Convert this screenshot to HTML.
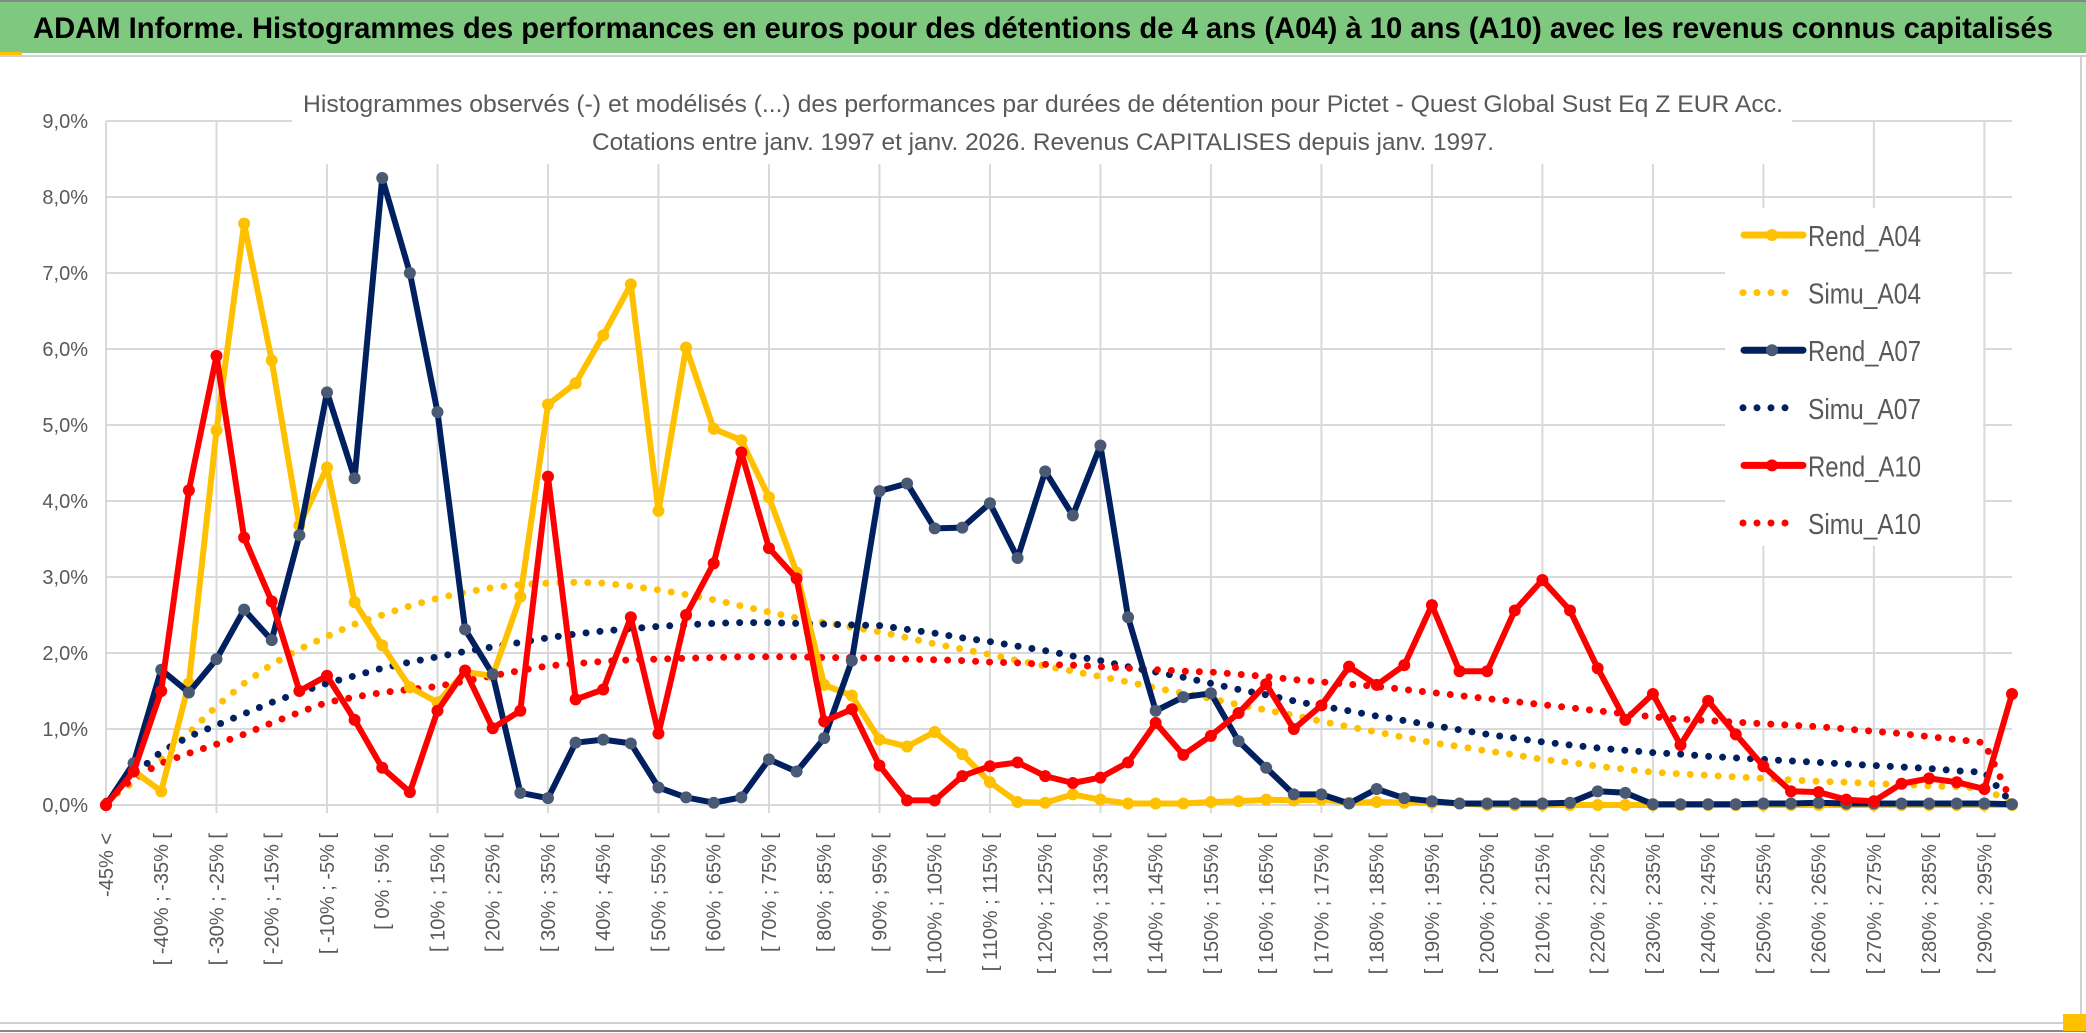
<!DOCTYPE html>
<html><head><meta charset="utf-8"><style>
html,body{margin:0;padding:0;background:#fff;}
svg{display:block;font-family:"Liberation Sans",sans-serif;}
</style></head><body>
<svg id="chart" width="2086" height="1033" viewBox="0 0 2086 1033" xmlns="http://www.w3.org/2000/svg">
<rect x="0" y="0" width="2086" height="1033" fill="#fff"/>
<rect x="0" y="1" width="2086" height="52" fill="#7fc87f"/>
<line x1="0" y1="1" x2="2086" y2="1" stroke="#888" stroke-width="2"/>
<line x1="0" y1="56" x2="2086" y2="56" stroke="#d0d0d0" stroke-width="2"/>
<rect x="0" y="52" width="22" height="3" fill="#ffc000"/>
<text x="33" y="38" font-size="30" font-weight="bold" fill="#000" textLength="2020" lengthAdjust="spacingAndGlyphs">ADAM Informe. Histogrammes des performances en euros pour des détentions de 4 ans (A04) à 10 ans (A10) avec les revenus connus capitalisés</text>
<line x1="2081" y1="56" x2="2081" y2="1024" stroke="#d0d0d0" stroke-width="2"/>
<line x1="0" y1="1023" x2="2081" y2="1023" stroke="#d0d0d0" stroke-width="2"/>
<line x1="0" y1="1031" x2="2086" y2="1031" stroke="#888" stroke-width="2"/>
<rect x="2063" y="1014" width="23" height="17" fill="#ffc000"/>
<g id="grid"></g>
<g id="axes"></g>
<g id="series"></g>
<rect x="292" y="84" width="1500" height="80" fill="#fff"/>
<text x="1043" y="112" font-size="24" fill="#595959" text-anchor="middle" textLength="1480" lengthAdjust="spacingAndGlyphs">Histogrammes observés (-) et modélisés (...) des performances par durées de détention pour Pictet - Quest Global Sust Eq Z EUR Acc.</text>
<text x="1043" y="150" font-size="24" fill="#595959" text-anchor="middle" textLength="902" lengthAdjust="spacingAndGlyphs">Cotations entre janv. 1997 et janv. 2026. Revenus CAPITALISES depuis janv. 1997.</text>
<g id="legend"></g>
</svg>
<script>
const categories = [];
const tickValues = [0,1,2,3,4,5,6,7,8,9];
const rendA04 = [0,0.45,0.18,1.6,4.93,7.65,5.85,3.68,4.44,2.67,2.1,1.55,1.35,1.75,1.7,2.74,5.27,5.55,6.18,6.85,3.87,6.02,4.95,4.8,4.05,3.06,1.58,1.44,0.86,0.77,0.96,0.67,0.3,0.04,0.03,0.14,0.07,0.02,0.02,0.02,0.04,0.05,0.07,0.06,0.07,0.03,0.04,0.03,0.03,0.02,0,0,0,0,0,0,0,0,0,0,0,0,0,0,0,0,0,0,0,0];
const simuA04 = [0.05,0.3,0.6,0.95,1.3,1.6,1.85,2.05,2.22,2.38,2.5,2.62,2.72,2.8,2.86,2.9,2.92,2.93,2.92,2.88,2.83,2.77,2.7,2.62,2.54,2.46,2.4,2.34,2.28,2.2,2.12,2.05,1.98,1.9,1.83,1.76,1.69,1.62,1.54,1.47,1.4,1.32,1.25,1.18,1.1,1.03,0.96,0.89,0.82,0.77,0.71,0.66,0.6,0.56,0.51,0.47,0.43,0.41,0.39,0.37,0.35,0.33,0.31,0.3,0.28,0.27,0.25,0.24,0.22,0.02];
const rendA07 = [0,0.55,1.78,1.48,1.92,2.57,2.17,3.55,5.43,4.3,8.25,7.0,5.17,2.31,1.72,0.16,0.09,0.82,0.86,0.81,0.23,0.1,0.03,0.1,0.6,0.44,0.88,1.9,4.13,4.23,3.64,3.65,3.97,3.25,4.39,3.81,4.73,2.47,1.24,1.42,1.47,0.84,0.49,0.14,0.14,0.02,0.21,0.09,0.05,0.02,0.02,0.02,0.02,0.03,0.18,0.16,0.01,0.01,0.01,0.01,0.02,0.02,0.03,0.02,0.02,0.02,0.02,0.02,0.02,0.01];
const simuA07 = [0.05,0.4,0.7,0.9,1.05,1.2,1.35,1.48,1.6,1.7,1.8,1.88,1.95,2.02,2.08,2.14,2.2,2.25,2.29,2.32,2.35,2.37,2.39,2.4,2.4,2.39,2.38,2.37,2.36,2.31,2.26,2.2,2.15,2.09,2.03,1.96,1.9,1.82,1.75,1.68,1.6,1.52,1.45,1.37,1.3,1.24,1.17,1.11,1.05,0.99,0.93,0.88,0.83,0.79,0.75,0.72,0.69,0.67,0.64,0.62,0.6,0.58,0.56,0.54,0.52,0.5,0.48,0.45,0.43,0.02];
const rendA10 = [0,0.44,1.5,4.14,5.91,3.52,2.68,1.5,1.7,1.12,0.49,0.17,1.24,1.77,1.01,1.24,4.32,1.39,1.52,2.47,0.94,2.5,3.18,4.64,3.38,2.98,1.1,1.26,0.52,0.06,0.06,0.38,0.51,0.56,0.38,0.29,0.36,0.56,1.08,0.66,0.91,1.21,1.59,1.0,1.31,1.82,1.58,1.84,2.63,1.76,1.76,2.56,2.96,2.56,1.8,1.12,1.46,0.79,1.37,0.93,0.51,0.18,0.17,0.07,0.05,0.28,0.35,0.3,0.21,1.46];
const simuA10 = [0.05,0.35,0.55,0.68,0.8,0.93,1.08,1.22,1.35,1.42,1.48,1.52,1.56,1.63,1.7,1.77,1.83,1.86,1.89,1.91,1.92,1.93,1.94,1.95,1.95,1.95,1.94,1.94,1.93,1.92,1.91,1.9,1.88,1.87,1.85,1.84,1.82,1.8,1.78,1.76,1.75,1.72,1.69,1.65,1.62,1.59,1.56,1.52,1.48,1.44,1.4,1.36,1.32,1.28,1.24,1.2,1.16,1.13,1.11,1.09,1.07,1.05,1.03,1.0,0.97,0.94,0.9,0.86,0.82,0.03];
categories.push("-45% <");
for (let i = 1; i < 70; i++) { const a = -45 + 5*(i-1); categories.push("[ " + a + "% ; " + (a+5) + "% ["); }

const NS = "http://www.w3.org/2000/svg";
const X0 = 106, X1 = 2012, Y0 = 805, YTOP = 121, YMAX = 9;
function xPos(i){ return X0 + i*(X1-X0)/(categories.length-1); }
function yPos(v){ return Y0 - v*(Y0-YTOP)/YMAX; }
function mk(tag, attrs, parent){ const e=document.createElementNS(NS,tag); for(const k in attrs) e.setAttribute(k,attrs[k]); parent.appendChild(e); return e; }

const grid = document.getElementById('grid');
tickValues.forEach(t => {
  const l = mk('line',{x1:X0,x2:X1,y1:yPos(t),y2:yPos(t),stroke:'#d9d9d9','stroke-width':2},grid);
  
  
  const tx = mk('text',{x:88,y:yPos(t)+7,'font-size':20,fill:'#595959','text-anchor':'end'},grid);
  
  
  tx.textContent = t.toFixed(1).replace('.',',') + '%';
});
for (let i = 0; i < categories.length; i += 4) {
  const l = mk('line',{x1:xPos(i),x2:xPos(i),y1:YTOP,y2:Y0+8,stroke:'#d9d9d9','stroke-width':2},grid);
  
  
}
const axes = document.getElementById('axes');
for (let i = 0; i < categories.length; i += 2) {
  const x = xPos(i) + 7, y = 833;
  const t = mk('text',{x:x,y:y,'font-size':20,fill:'#595959','text-anchor':'end',transform:`rotate(-90 ${x} ${y})`},axes);
  
  
  t.textContent = categories[i];
}

const series = document.getElementById('series');
function pts(arr){ return arr.map((v,i)=>xPos(i).toFixed(1)+','+yPos(v).toFixed(1)).join(' '); }
function dotted(arr, color, name){
  const p = mk('polyline',{points:pts(arr),fill:'none',stroke:color,'stroke-width':7,'stroke-linecap':'round','stroke-dasharray':'0 14'},series);
  
  
}
function solid(arr, color, mcolor, name){
  const g = mk('g',{},series);
  
  
  mk('polyline',{points:pts(arr),fill:'none',stroke:color,'stroke-width':6,'stroke-linejoin':'round'},g);
  arr.forEach((v,i)=>{
    const c = mk('circle',{cx:xPos(i),cy:yPos(v),r:6,fill:mcolor},g);
    
    
  });
}
dotted(simuA04,'#ffc000','simu-a04-line');
dotted(simuA07,'#002060','simu-a07-line');
dotted(simuA10,'#ff0000','simu-a10-line');
solid(rendA04,'#ffc000','#ffc000','rend-a04-line');
solid(rendA07,'#002060','#4a5a75','rend-a07-line');
solid(rendA10,'#ff0000','#ff0000','rend-a10-line');

const legend = document.getElementById('legend');
mk('rect',{x:1725,y:208,width:258,height:338,fill:'#fff'},legend);
const entries = [
  ['Rend_A04','#ffc000','#ffc000',false],
  ['Simu_A04','#ffc000',null,true],
  ['Rend_A07','#002060','#4a5a75',false],
  ['Simu_A07','#002060',null,true],
  ['Rend_A10','#ff0000','#ff0000',false],
  ['Simu_A10','#ff0000',null,true]
];
entries.forEach((e,k)=>{
  const y = 235 + k*57.6;
  const g = mk('g',{},legend);
  
  
  if (e[3]) {
    mk('line',{x1:1743,x2:1795,y1:y,y2:y,stroke:e[1],'stroke-width':7,'stroke-linecap':'round','stroke-dasharray':'0 14'},g);
  } else {
    mk('line',{x1:1744,x2:1803,y1:y,y2:y,stroke:e[1],'stroke-width':7,'stroke-linecap':'round'},g);
    mk('circle',{cx:1772,cy:y,r:6,fill:e[2]},g);
  }
  const t = mk('text',{x:1808,y:y+11,'font-size':29,fill:'#595959',textLength:113,lengthAdjust:'spacingAndGlyphs'},g);
  t.textContent = e[0];
});
</script>
</body></html>
